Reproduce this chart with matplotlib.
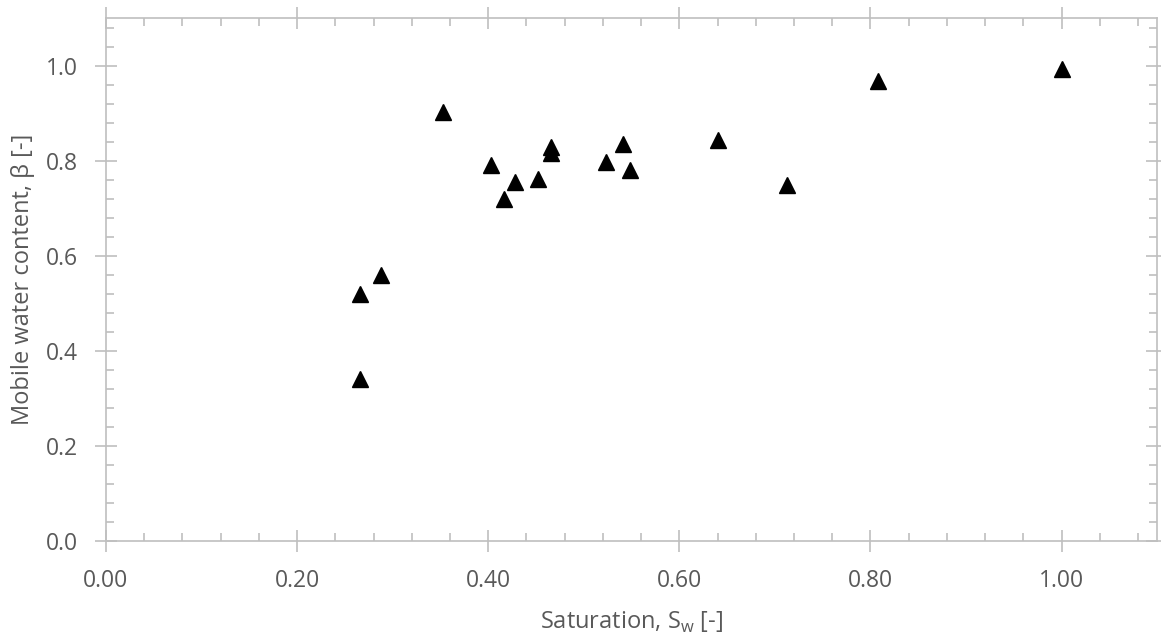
import numpy as np
import matplotlib
matplotlib.use('Agg')
import matplotlib.pyplot as plt
from matplotlib.ticker import MultipleLocator, FormatStrFormatter

# saturation Sw and mobile water content beta
sw = [0.266, 0.266, 0.288, 0.353, 0.403, 0.417, 0.428, 0.452, 0.466, 0.466,
      0.523, 0.541, 0.548, 0.641, 0.713, 0.808, 1.000]
beta = [0.519, 0.340, 0.559, 0.903, 0.791, 0.719, 0.755, 0.762, 0.829, 0.816,
        0.797, 0.835, 0.781, 0.844, 0.749, 0.968, 0.992]

plt.rcParams['font.family'] = ['Open Sans', 'DejaVu Sans']
plt.rcParams['mathtext.fontset'] = 'custom'
plt.rcParams['mathtext.rm'] = 'Open Sans'

grey = '#BFBFBF'
txt = '#595959'

fig = plt.figure(figsize=(11.61, 6.37), dpi=100)
ax = fig.add_axes([0.0913, 0.1507, 0.9053, 0.821])

ax.plot(sw, beta, linestyle='none', marker='^', markersize=11, color='black')

ax.set_xlim(0, 1.1)
ax.set_ylim(0, 1.1)
ax.xaxis.set_major_locator(MultipleLocator(0.2))
ax.xaxis.set_minor_locator(MultipleLocator(0.04))
ax.yaxis.set_major_locator(MultipleLocator(0.2))
ax.yaxis.set_minor_locator(MultipleLocator(0.04))
ax.xaxis.set_major_formatter(FormatStrFormatter('%.2f'))
ax.yaxis.set_major_formatter(FormatStrFormatter('%.1f'))

for s in ax.spines.values():
    s.set_color(grey)
    s.set_linewidth(1.2)

ax.tick_params(which='both', top=True, right=True, color=grey, width=1.2)
ax.tick_params(which='major', direction='inout', length=16, labelsize=16.5,
               labelcolor=txt)
ax.tick_params(which='minor', direction='in', length=6)
ax.tick_params(axis='x', which='major', pad=12)
ax.tick_params(axis='y', which='major', pad=12)

ax.set_xlabel('Saturation, S$_\\mathregular{w}$ [-]', fontsize=17, color=txt, labelpad=12)
ax.set_ylabel('Mobile water content, \u03b2 [-]', fontsize=17, color=txt, labelpad=8)

fig.savefig('out.png', dpi=100)
